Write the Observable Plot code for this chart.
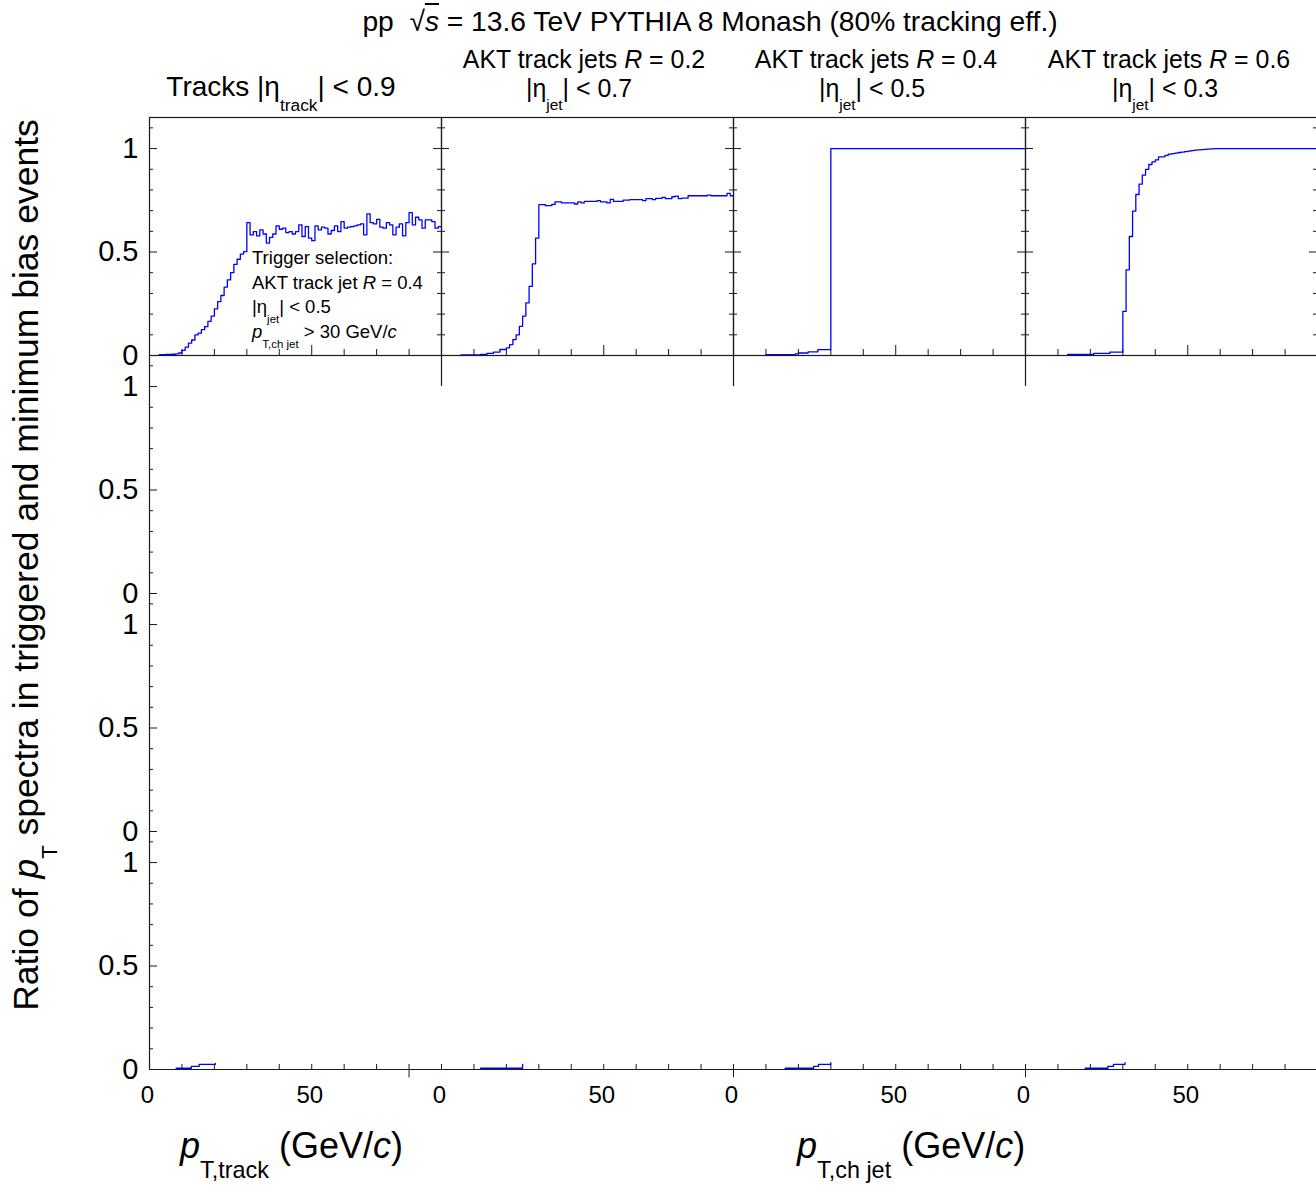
<!DOCTYPE html>
<html><head><meta charset="utf-8">
<script src="https://cdn.jsdelivr.net/npm/d3@7"></script>
<script src="https://cdn.jsdelivr.net/npm/@observablehq/plot@0.6"></script>
<style>
html,body{margin:0;padding:0;background:#fff;overflow:hidden;}
#root{position:relative;width:1316px;height:1191px;overflow:hidden;background:#fff;font-family:"Liberation Sans",Arial,Helvetica,sans-serif;color:#000;}
#root svg{position:absolute;}
.t{position:absolute;white-space:nowrap;line-height:1;}
.sub{font-size:0.62em;vertical-align:-0.85em;}
.ovl{text-decoration:overline;}
</style></head><body><div id="root"></div>
<script>
// ---------------- data ----------------
// top row: ratio histograms (1 GeV/c bins), lower-edge + value
const tracksStart = 3;
const tracksValues = [
  0.004,0.004,0.005,0.005,0.006,0.008,0.012,
  0.025,0.04,0.06,0.075,0.1,0.108,0.125,0.14,0.165,0.19,
  0.225,0.26,0.29,0.33,0.365,0.4,0.44,0.465,0.49,0.502,
  0.642,0.583,0.599,0.578,0.607,0.587,0.543,0.571,0.587,0.626,
  0.610,0.615,0.594,0.599,0.587,0.599,0.631,0.575,0.623,0.567,
  0.555,0.626,0.607,0.620,0.615,0.587,0.604,0.626,0.599,0.647,
  0.615,0.620,0.623,0.626,0.631,0.636,0.583,0.684,0.642,0.636,
  0.658,0.620,0.615,0.642,0.631,0.583,0.620,0.636,0.578,0.642,
  0.690,0.631,0.668,0.655,0.615,0.655,0.655,0.647,0.615,0.623
];
const r02Start = 6;
const r02Values = [
  0.003,0.003,0.003,0.003,0.003,0.003,0.005,0.005,0.01,0.01,
  0.016,0.016,0.029,0.029,0.037,0.053,0.077,0.10,0.141,0.19,
  0.254,0.334,0.443,0.567,
  0.729,0.729,0.724,0.724,0.730,0.742,0.742,0.737,0.737,
  0.737,0.737,0.732,0.742,0.737,0.745,0.745,0.745,0.745,0.748,
  0.742,0.742,0.737,0.754,0.745,0.745,0.745,0.751,0.751,0.753,
  0.753,0.753,0.753,0.748,0.758,0.758,0.753,0.759,0.759,0.764,
  0.758,0.758,0.767,0.770,0.758,0.760,0.760,0.772,0.772,0.772,
  0.772,0.772,0.772,0.775,0.772,0.772,0.772,0.772,0.772,0.783,
  0.772
];
const r04Edges  = [10, 19, 20, 23, 26, 30];
const r04Values = [0.004, 0.008, 0.012, 0.018, 0.028, 1.0];
const r06Edges  = [13, 21, 26, 30, 31, 32, 33, 34, 35, 36, 37, 38, 39, 40, 41, 43, 44, 45, 46, 47, 48, 49, 50, 51, 52, 53, 54, 55, 56, 57, 58];
const r06Values = [0.005, 0.01, 0.016, 0.213, 0.414, 0.575, 0.698, 0.778, 0.828, 0.872, 0.899, 0.923, 0.936, 0.945, 0.96, 0.967, 0.973, 0.975, 0.978, 0.981, 0.983, 0.985, 0.988, 0.99, 0.992, 0.994, 0.995, 0.996, 0.997, 0.998, 1.0];
// bottom row: small fragments near zero
const low1Edges = [8.2, 12.9, 15.3, 20.3], low1Values = [0.006, 0.015, 0.025, 0.03];
const low2Edges = [12, 25],               low2Values = [0.006, 0.025];
const low3Edges = [15.9, 24.7, 26.2, 30], low3Values = [0.006, 0.015, 0.025, 0.033];
const low4Edges = [18.4, 25.4, 27.1, 30.7], low4Values = [0.006, 0.015, 0.025, 0.033];
// axes
const xEnd = 90;
const yTop = 1.15;
const yMajorTicks = [0, 0.5, 1];
const yMinorTicks = [0.1, 0.2, 0.3, 0.4, 0.6, 0.7, 0.8, 0.9, 1.1];
const yTickLabels = ["0", "0.5", "1"];
const xMinorTicks = [10, 20, 30, 40, 60, 70, 80, 90];
const xMajorTicks = [50];
const xLabelTicks = [0, 50];
const xTickLabels = ["0", "50"];
// bottom axis: ticks that also reach below the axis line, per column
const downTicks = [[80], [], [0], [0]];

// ---------------- helpers ----------------
function histPoints(lo, vals, end) {
  const pts = lo.map((x, i) => ({x, y: vals[i]}));
  if (end != null) pts.push({x: end, y: vals[vals.length - 1]});
  return pts;
}
const tracksLo = tracksValues.map((_, i) => tracksStart + i);
const r02Lo = r02Values.map((_, i) => r02Start + i);
const topSeries = [
  histPoints(tracksLo, tracksValues, xEnd),
  histPoints(r02Lo, r02Values, xEnd),
  histPoints(r04Edges, r04Values, xEnd),
  histPoints(r06Edges, r06Values, xEnd)
];
const lowSeries = [
  histPoints(low1Edges, low1Values),
  histPoints(low2Edges, low2Values),
  histPoints(low3Edges, low3Values),
  histPoints(low4Edges, low4Values)
];

const root = document.getElementById("root");
const X0 = 149, CW = 292, Y0 = 117, RH = 238;
const ML = 80, MR = 14, MT = 14, MB = 70;
const AX = "#1a1a1a", BLUE = "#0000ff";
const FONT = "Liberation Sans, Arial, Helvetica, sans-serif";

function cell(col, row, marks) {
  const svg = Plot.plot({
    width: CW + ML + MR, height: RH + MT + MB,
    marginLeft: ML, marginRight: MR, marginTop: MT, marginBottom: MB,
    x: {domain: [0, xEnd], axis: null},
    y: {domain: [0, yTop], axis: null},
    style: {background: "transparent", fontFamily: FONT, overflow: "visible"},
    marks
  });
  svg.style.left = (X0 + col * CW - ML) + "px";
  svg.style.top = (Y0 + row * RH - MT) + "px";
  svg.style.overflow = "visible";
  svg.style.background = "transparent";
  root.appendChild(svg);
}

const yLabelMark = () => Plot.text(yMajorTicks, {x: 0, y: d => d, text: (d, i) => yTickLabels[i], dx: -11, textAnchor: "end", fontSize: 29, fill: "#000"});
const leftTicks = () => [
  Plot.tickY(yMajorTicks, {y: d => d, insetRight: CW - 8, stroke: AX}),
  Plot.tickY(yMinorTicks, {y: d => d, insetRight: CW - 4, stroke: AX})
];
const rightTicks = () => [
  Plot.tickY(yMajorTicks, {y: d => d, insetLeft: CW - 8, stroke: AX}),
  Plot.tickY(yMinorTicks, {y: d => d, insetLeft: CW - 4, stroke: AX})
];

for (let c = 0; c < 4; c++) {
  // top row
  cell(c, 0, [
    Plot.frame({stroke: AX, strokeWidth: 1.2}),
    ...leftTicks(), ...rightTicks(),
    Plot.tickX(xMinorTicks, {x: d => d, insetTop: RH - 6, stroke: AX}),
    Plot.tickX(xMajorTicks, {x: d => d, insetTop: RH - 10, stroke: AX}),
    Plot.line(topSeries[c], {x: "x", y: "y", curve: "step-after", stroke: BLUE, strokeWidth: 1.3, clip: true}),
    ...(c === 0 ? [yLabelMark()] : [])
  ]);
  // lower rows
  for (let r = 1; r < 4; r++) {
    const marks = [];
    if (c === 0) {
      marks.push(Plot.ruleX([0], {stroke: AX, strokeWidth: 1.2}), ...leftTicks(), yLabelMark());
    } else if (r === 1) {
      marks.push(Plot.ruleX([0], {y1: 1.0, y2: yTop, stroke: AX, strokeWidth: 1.2}));
    }
    if (r === 3) {
      marks.push(
        Plot.ruleY([0], {stroke: AX, strokeWidth: 1.2}),
        Plot.tickX([0, ...xMinorTicks, ...xMajorTicks], {x: d => d, insetTop: RH - 5, stroke: AX}),
        Plot.ruleX(downTicks[c], {x: d => d, y1: -0.04, y2: 0, stroke: AX}),
        Plot.line(lowSeries[c], {x: "x", y: "y", curve: "step-after", stroke: BLUE, strokeWidth: 1.3}),
        Plot.text(xLabelTicks, {x: d => d, y: 0, text: (d, i) => xTickLabels[i], dx: -2, dy: 26, fontSize: 24, fill: "#000"})
      );
    }
    if (marks.length) cell(c, r, marks);
  }
}

// ---------------- texts ----------------
function addText(html, x, baseline, size, anchor) {
  const d = document.createElement("div");
  d.className = "t";
  d.innerHTML = html;
  d.style.fontSize = size + "px";
  d.style.left = x + "px";
  d.style.top = (baseline - 0.8465 * size) + "px";
  if (anchor === "middle") d.style.transform = "translateX(-50%)";
  root.appendChild(d);
  return d;
}
addText('pp&nbsp; √<span class="ovl"><i>s</i></span> = 13.6 TeV PYTHIA 8 Monash (80% tracking eff.)', 710, 31, 28.2, "middle");
addText('Tracks |η<span class="sub">track</span>| &lt; 0.9', 281, 97, 28, "middle");
const jetR = ["0.2", "0.4", "0.6"], jetEta = ["0.7", "0.5", "0.3"];
const hdrCenters = [584, 876, 1169], etaCenters = [579, 872, 1165];
jetR.forEach((R, i) => {
  addText(`AKT track jets <i>R</i> = ${R}`, hdrCenters[i], 68, 24.9, "middle");
  addText(`|η<span class="sub">jet</span>| &lt; ${jetEta[i]}`, etaCenters[i], 97, 24.9, "middle");
});
// legend
addText('Trigger selection:', 252, 265, 18.5);
addText('AKT track jet <i>R</i> = 0.4', 252, 290, 18.5);
addText('|η<span class="sub">jet</span>| &lt; 0.5', 252, 314, 18.5);
addText('<i>p</i><span class="sub">T,ch jet</span> &gt; 30 GeV/<i>c</i>', 252, 339, 18.5);
// axis titles
addText('<i>p</i><span class="sub" style="font-size:0.65em">T,track</span> (GeV/<i>c</i>)', 180, 1158, 36);
addText('<i>p</i><span class="sub" style="font-size:0.65em">T,ch jet</span> (GeV/<i>c</i>)', 797, 1158, 36);
const yt = addText('Ratio of <i>p</i><span class="sub">T</span> spectra in triggered and minimum bias events', 0, 0, 35.5);
yt.style.left = "35px"; yt.style.top = "565px";
yt.style.transform = "translate(-50%,-50%) rotate(-90deg)";
</script></body></html>
